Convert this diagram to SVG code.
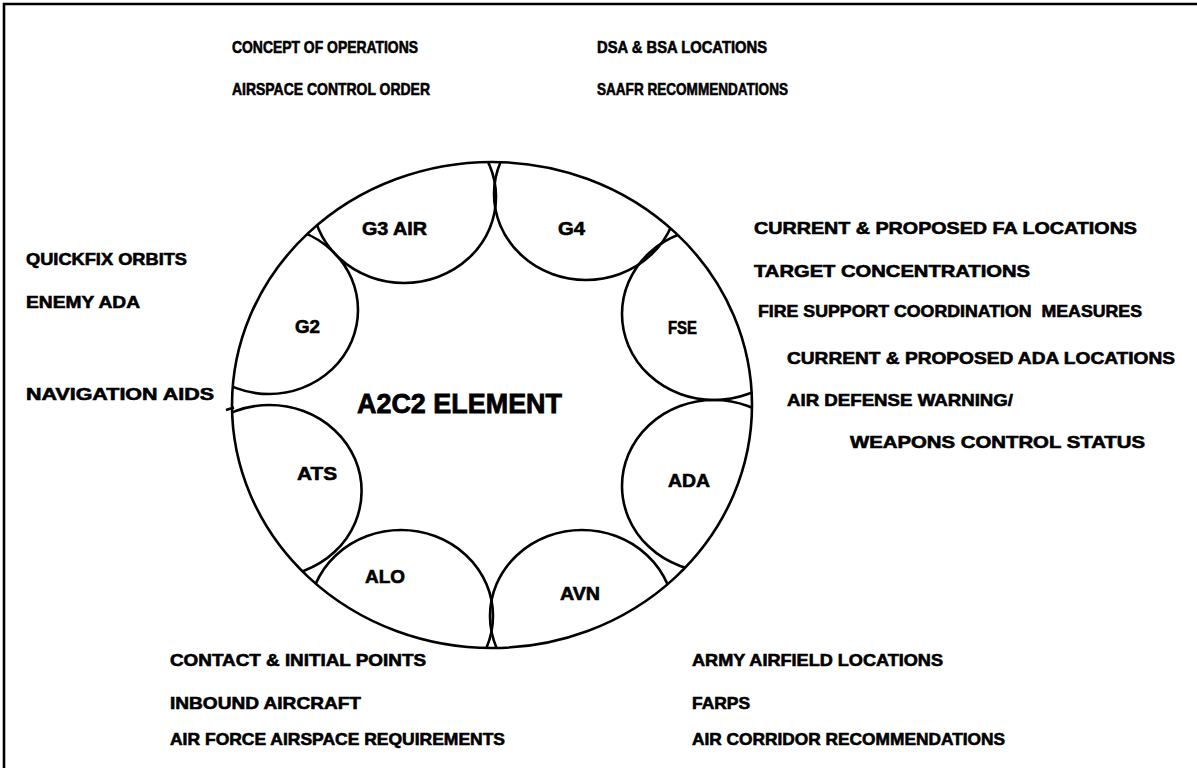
<svg xmlns="http://www.w3.org/2000/svg" width="1197" height="768" viewBox="0 0 1197 768">
<style>
.ln{fill:none;stroke:#000;stroke-width:2.6}
.t{font-family:"Liberation Sans",Arial,sans-serif;font-weight:bold;font-size:17px;fill:#000;stroke:#000;stroke-width:0.6}
.lab{font-size:18px}
.big{font-size:27px;stroke-width:0.8}
</style>
<defs>
<clipPath id="ring"><ellipse cx="492" cy="405" rx="260" ry="243"/></clipPath>
</defs>
<rect width="1197" height="768" fill="#fff"/>
<g id="frame"><path class="ln" d="M4 768V4H1197" stroke-width="3"/></g>
<g id="ring-outline"><ellipse class="ln" cx="492" cy="405" rx="260" ry="243"/></g>
<g id="center"><text class="t big" x="357" y="413" textLength="205" lengthAdjust="spacingAndGlyphs">A2C2 ELEMENT</text></g>
<g id="node-g3air"><ellipse class="ln" clip-path="url(#ring)" cx="404" cy="197" rx="92" ry="86"/><text class="t lab" x="362" y="235" textLength="65" lengthAdjust="spacingAndGlyphs">G3 AIR</text></g>
<g id="node-g4"><ellipse class="ln" clip-path="url(#ring)" cx="586" cy="194" rx="92" ry="86"/><text class="t lab" x="558" y="235" textLength="27" lengthAdjust="spacingAndGlyphs">G4</text></g>
<g id="node-fse"><ellipse class="ln" clip-path="url(#ring)" cx="714" cy="314" rx="92" ry="86"/><text class="t lab" x="668" y="334" textLength="29" lengthAdjust="spacingAndGlyphs">FSE</text></g>
<g id="node-ada"><ellipse class="ln" clip-path="url(#ring)" cx="714" cy="486" rx="92" ry="86"/><text class="t lab" x="668" y="487" textLength="42" lengthAdjust="spacingAndGlyphs">ADA</text></g>
<g id="node-avn"><ellipse class="ln" clip-path="url(#ring)" cx="582" cy="616" rx="92" ry="86"/><text class="t lab" x="560" y="600" textLength="40" lengthAdjust="spacingAndGlyphs">AVN</text></g>
<g id="node-alo"><ellipse class="ln" clip-path="url(#ring)" cx="401" cy="616" rx="92" ry="86"/><text class="t lab" x="365" y="583" textLength="40" lengthAdjust="spacingAndGlyphs">ALO</text></g>
<g id="node-ats"><ellipse class="ln" clip-path="url(#ring)" cx="269.6" cy="491" rx="92" ry="86"/><path class="ln" d="M234 407.5L226 410"/><text class="t lab" x="297" y="480" textLength="40" lengthAdjust="spacingAndGlyphs">ATS</text></g>
<g id="node-g2"><ellipse class="ln" clip-path="url(#ring)" cx="269" cy="310" rx="89" ry="84"/><text class="t lab" x="295" y="333" textLength="25" lengthAdjust="spacingAndGlyphs">G2</text></g>
<g id="connectors"></g>
<g id="notes-top">
<text class="t" x="232" y="53" textLength="186" lengthAdjust="spacingAndGlyphs">CONCEPT OF OPERATIONS</text>
<text class="t" x="232" y="95" textLength="198" lengthAdjust="spacingAndGlyphs">AIRSPACE CONTROL ORDER</text>
<text class="t" x="597" y="53" textLength="170" lengthAdjust="spacingAndGlyphs">DSA &amp; BSA LOCATIONS</text>
<text class="t" x="597" y="95" textLength="191" lengthAdjust="spacingAndGlyphs">SAAFR RECOMMENDATIONS</text>
</g>
<g id="notes-right">
<text class="t" x="754" y="234" textLength="383" lengthAdjust="spacingAndGlyphs">CURRENT &amp; PROPOSED FA LOCATIONS</text>
<text class="t" x="754" y="277" textLength="276" lengthAdjust="spacingAndGlyphs">TARGET CONCENTRATIONS</text>
<text class="t" x="758" y="317" textLength="384" lengthAdjust="spacingAndGlyphs" xml:space="preserve">FIRE SUPPORT COORDINATION  MEASURES</text>
<text class="t" x="787" y="364" textLength="388" lengthAdjust="spacingAndGlyphs">CURRENT &amp; PROPOSED ADA LOCATIONS</text>
<text class="t" x="787" y="406" textLength="226" lengthAdjust="spacingAndGlyphs">AIR DEFENSE WARNING/</text>
<text class="t" x="850" y="448" textLength="295" lengthAdjust="spacingAndGlyphs">WEAPONS CONTROL STATUS</text>
</g>
<g id="notes-left">
<text class="t" x="26" y="265" textLength="161" lengthAdjust="spacingAndGlyphs">QUICKFIX ORBITS</text>
<text class="t" x="26" y="308" textLength="114" lengthAdjust="spacingAndGlyphs">ENEMY ADA</text>
<text class="t" x="26" y="400" textLength="188" lengthAdjust="spacingAndGlyphs">NAVIGATION AIDS</text>
</g>
<g id="notes-bottom">
<text class="t" x="170" y="666" textLength="256" lengthAdjust="spacingAndGlyphs">CONTACT &amp; INITIAL POINTS</text>
<text class="t" x="170" y="709" textLength="191" lengthAdjust="spacingAndGlyphs">INBOUND AIRCRAFT</text>
<text class="t" x="170" y="745" textLength="335" lengthAdjust="spacingAndGlyphs">AIR FORCE AIRSPACE REQUIREMENTS</text>
<text class="t" x="692" y="666" textLength="251" lengthAdjust="spacingAndGlyphs">ARMY AIRFIELD LOCATIONS</text>
<text class="t" x="692" y="709" textLength="58" lengthAdjust="spacingAndGlyphs">FARPS</text>
<text class="t" x="692" y="745" textLength="313" lengthAdjust="spacingAndGlyphs">AIR CORRIDOR RECOMMENDATIONS</text>
</g>
</svg>
